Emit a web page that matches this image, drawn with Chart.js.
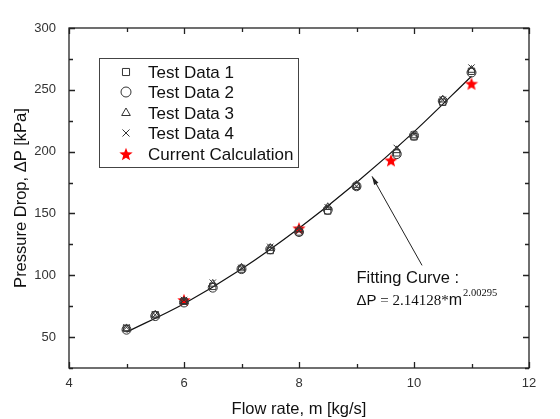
<!DOCTYPE html>
<html>
<head>
<meta charset="utf-8">
<script src="https://cdn.jsdelivr.net/npm/chart.js@4/dist/chart.umd.min.js"></script>
<style>
  html, body { margin: 0; padding: 0; background: #fff; }
  #wrap { width: 560px; height: 419px; }
</style>
</head>
<body>
<div id="wrap"><canvas id="chartContainer" width="560" height="419"></canvas></div>
<script>
// flow rate [kg/s]
var flow = [5, 5.5, 6, 6.5, 7, 7.5, 8, 8.5, 9, 9.7, 10, 10.5, 11];
var test1 = [57, 68, 79, 91, 105, 120, 135, 152, 172, 199, 212, 240, 265];
var test2 = [56, 67, 78, 90, 105, 121, 135, 153, 172, 198, 213, 241, 264];
var test3 = [57, 68, 79, 93, 106, 122, 137, 155, 173, 201, 213, 242, 266];
var test4 = [58, 68, 80, 94, 106, 123, 136, 155, 172, 203, 214, 242, 268];

var calcFlow = [6, 8, 9.6, 11];
var calcDp = [80, 138, 193, 255];

// fitting curve
var fitFlow = [5, 6, 7, 8, 9, 10, 11];
var fitDp = [54, 77, 105, 138, 175, 216, 261];

var legendLabels = ["Test Data 1", "Test Data 2", "Test Data 3", "Test Data 4", "Current Calculation"];

function pts(xs, ys) {
    return xs.map(function(x, i) { return {x: x, y: ys[i]}; });
}

// red filled star used as point style
function makeStar(r) {
    var c = document.createElement('canvas');
    c.width = r * 2 + 2;
    c.height = r * 2 + 2;
    var g = c.getContext('2d');
    g.fillStyle = '#ff0000';
    g.beginPath();
    for (var i = 0; i < 10; i++) {
        var rad = (i % 2 == 0) ? r : r * 0.42;
        var a = -Math.PI / 2 + i * Math.PI / 5;
        var px = r + 1 + rad * Math.cos(a);
        var py = r + 1 + rad * Math.sin(a) + r * 0.1;
        if (i == 0) g.moveTo(px, py); else g.lineTo(px, py);
    }
    g.closePath();
    g.fill();
    return c;
}
var starImg = makeStar(7);

var ink = '#333333';
var sans = '"Liberation Sans", Arial, sans-serif';

var boxPlugin = {
    id: 'boxPlugin',
    afterDatasetsDraw: function(chart) {
        var ctx = chart.ctx;
        var a = chart.chartArea;
        var xs = chart.scales.x, ys = chart.scales.y;
        ctx.save();
        ctx.strokeStyle = '#222';
        ctx.lineWidth = 1.3;
        ctx.strokeRect(a.left, a.top, a.right - a.left, a.bottom - a.top);
        // inward ticks
        ctx.beginPath();
        for (var v = 4; v <= 12; v += 1) {
            var px = Math.round(xs.getPixelForValue(v)) + 0.5;
            var len = (v % 2 == 0) ? 6 : 4;
            ctx.moveTo(px, a.bottom); ctx.lineTo(px, a.bottom - len);
            ctx.moveTo(px, a.top); ctx.lineTo(px, a.top + len);
        }
        for (var w = 25; w <= 300; w += 25) {
            var py = Math.round(ys.getPixelForValue(w)) + 0.5;
            var l2 = (w % 50 == 0) ? 6 : 4;
            ctx.moveTo(a.left, py); ctx.lineTo(a.left + l2, py);
            ctx.moveTo(a.right, py); ctx.lineTo(a.right - l2, py);
        }
        ctx.stroke();

        // legend box
        ctx.lineWidth = 1;
        ctx.strokeStyle = '#444';
        ctx.strokeRect(99.5, 58.5, 199, 109);
        var rows = [72, 92, 113, 133, 154];
        ctx.font = '17px ' + sans;
        ctx.textBaseline = 'middle';
        for (var i = 0; i < legendLabels.length; i++) {
            var ds = chart.data.datasets[i];
            ctx.strokeStyle = ink;
            ctx.fillStyle = 'rgba(0,0,0,0)';
            ctx.lineWidth = 1;
            Chart.helpers.drawPoint(ctx, {pointStyle: ds.pointStyle, radius: 5, borderWidth: 1, rotation: 0}, 126, rows[i]);
            ctx.fillStyle = '#111';
            ctx.fillText(legendLabels[i], 148, rows[i] + 1);
        }

        // annotation arrow
        var tipX = xs.getPixelForValue(9.27), tipY = ys.getPixelForValue(180);
        var tailX = xs.getPixelForValue(10.14), tailY = ys.getPixelForValue(108);
        ctx.strokeStyle = '#222';
        ctx.lineWidth = 1;
        ctx.beginPath();
        ctx.moveTo(tailX, tailY);
        ctx.lineTo(tipX, tipY);
        ctx.stroke();
        var ang = Math.atan2(tipY - tailY, tipX - tailX);
        ctx.fillStyle = '#222';
        ctx.beginPath();
        ctx.moveTo(tipX, tipY);
        ctx.lineTo(tipX - 9 * Math.cos(ang - 0.28), tipY - 9 * Math.sin(ang - 0.28));
        ctx.lineTo(tipX - 9 * Math.cos(ang + 0.28), tipY - 9 * Math.sin(ang + 0.28));
        ctx.closePath();
        ctx.fill();

        // annotation text
        var tx = xs.getPixelForValue(9.0);
        ctx.textBaseline = 'alphabetic';
        ctx.fillStyle = '#111';
        ctx.font = '16.5px ' + sans;
        ctx.fillText('Fitting Curve :', tx, ys.getPixelForValue(94));
        var by = ys.getPixelForValue(76);
        var cx = tx;
        ctx.font = '15px ' + sans;
        ctx.fillText('\u0394P', cx, by); cx += ctx.measureText('\u0394P').width;
        ctx.font = '15px "Liberation Serif", "Times New Roman", serif';
        ctx.fillText(' = 2.14128*', cx, by); cx += ctx.measureText(' = 2.14128*').width;
        ctx.font = '16px ' + sans;
        ctx.fillText('m', cx, by); cx += ctx.measureText('m').width + 1;
        ctx.font = '10.5px "Liberation Serif", "Times New Roman", serif';
        ctx.fillText('2.00295', cx, by - 9);
        ctx.restore();
    }
};

var pointBase = {
    showLine: false,
    borderColor: ink,
    backgroundColor: 'rgba(0,0,0,0)',
    borderWidth: 1,
    pointRadius: 4.5
};

var cfg = {
    type: 'scatter',
    data: {
        datasets: [
            Object.assign({label: legendLabels[0], data: pts(flow, test1), pointStyle: 'rect'}, pointBase),
            Object.assign({label: legendLabels[1], data: pts(flow, test2), pointStyle: 'circle'}, pointBase),
            Object.assign({label: legendLabels[2], data: pts(flow, test3), pointStyle: 'triangle'}, pointBase),
            Object.assign({label: legendLabels[3], data: pts(flow, test4), pointStyle: 'crossRot'}, pointBase),
            {label: legendLabels[4], data: pts(calcFlow, calcDp), pointStyle: starImg, pointRadius: 7, showLine: false},
            {label: 'Fitting Curve', data: pts(fitFlow, fitDp), showLine: true, pointRadius: 0,
             borderColor: '#111', borderWidth: 1.2, tension: 0.4, cubicInterpolationMode: 'monotone'}
        ]
    },
    options: {
        responsive: false,
        animation: false,
        layout: { padding: { top: 28, right: 31, left: 0, bottom: 0 } },
        plugins: {
            legend: { display: false },
            tooltip: { enabled: false }
        },
        scales: {
            x: {
                type: 'linear',
                min: 4,
                max: 12,
                grid: { display: false, drawTicks: false },
                border: { display: false },
                ticks: {
                    stepSize: 2,
                    padding: 8,
                    color: ink,
                    font: { family: sans, size: 13 }
                },
                title: {
                    display: true,
                    text: 'Flow rate, m [kg/s]',
                    color: '#111',
                    padding: { top: 6, bottom: 0 },
                    font: { family: sans, size: 16.5 }
                },
                afterFit: function(scale) { scale.height = 51; }
            },
            y: {
                type: 'linear',
                min: 25,
                max: 300,
                grid: { display: false, drawTicks: false },
                border: { display: false },
                ticks: {
                    stepSize: 50,
                    padding: 13,
                    color: ink,
                    font: { family: sans, size: 13 },
                    callback: function(value) {
                        return value % 50 == 0 ? value : '';
                    }
                },
                title: {
                    display: true,
                    text: 'Pressure Drop, \u0394P [kPa]',
                    color: '#111',
                    padding: { top: 12, bottom: 0 },
                    font: { family: sans, size: 16.5 }
                },
                afterFit: function(scale) { scale.width = 69; }
            }
        }
    },
    plugins: [boxPlugin]
};

var cash = new Chart(document.getElementById('chartContainer').getContext('2d'), cfg);
</script>
</body>
</html>
